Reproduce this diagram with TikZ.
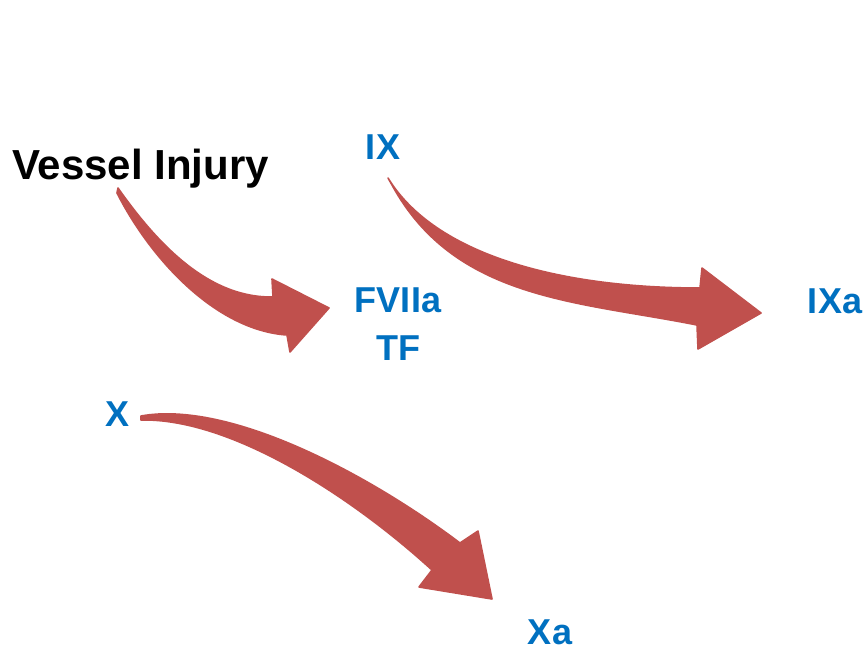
\documentclass[tikz,border=0pt]{standalone}
\usepackage{fontspec}
\setmainfont{Liberation Sans}
\usepackage{tikz}
\usetikzlibrary{positioning}
\usepackage{xcolor}
\definecolor{factorblue}{RGB}{0,112,192}
\definecolor{arrowred}{RGB}{192,80,77}

\tikzset{
  factor/.style={text=factorblue,font=\fontsize{27}{36}\selectfont\bfseries,inner sep=0pt,align=center},
  blockarrow/.style={fill=arrowred,draw=arrowred,line width=1.2pt,line join=round}
}

\begin{document}
\begin{tikzpicture}[x=0.75pt,y=-0.75pt]
\useasboundingbox (0,0) rectangle (867,650);

% Labels
\node[anchor=base,inner sep=0pt,font=\fontsize{31.5}{38}\selectfont\bfseries] (vessel) at (140.5,179) {Vessel Injury};
\node[factor,anchor=base] (ix) at (383,159) {IX};
\node[factor,anchor=base] (fviia) at (398,360) {FVIIa\\TF};
\node[factor,anchor=base] (ixa) at (835,313) {IXa};
\node[factor,anchor=base] (x) at (118,426) {X};
\node[factor,anchor=base] (xa) at (550,644) {Xa};

% Vessel Injury -> FVIIa/TF
\filldraw[blockarrow] (118,188) .. controls (165,255) and (215,298) .. (273,297)
  -- (272,279) -- (329,308) -- (290,352) -- (287,335)
  .. controls (215,330) and (150,258) .. (117,193) -- cycle;

% IX -> IXa
\filldraw[blockarrow] (388,178) .. controls (435,255) and (560,288) .. (700,288)
  -- (702,268) -- (761,313) -- (698,349) -- (697,325)
  .. controls (577,301) and (455,300) .. (392,185) -- cycle;

% X -> Xa
\filldraw[blockarrow] (141,416) .. controls (230,400) and (370,475) .. (460,543)
  -- (478,531) -- (492,599) -- (419,587) -- (432,570)
  .. controls (350,495) and (230,418) .. (141,420) -- cycle;

\end{tikzpicture}
\end{document}
